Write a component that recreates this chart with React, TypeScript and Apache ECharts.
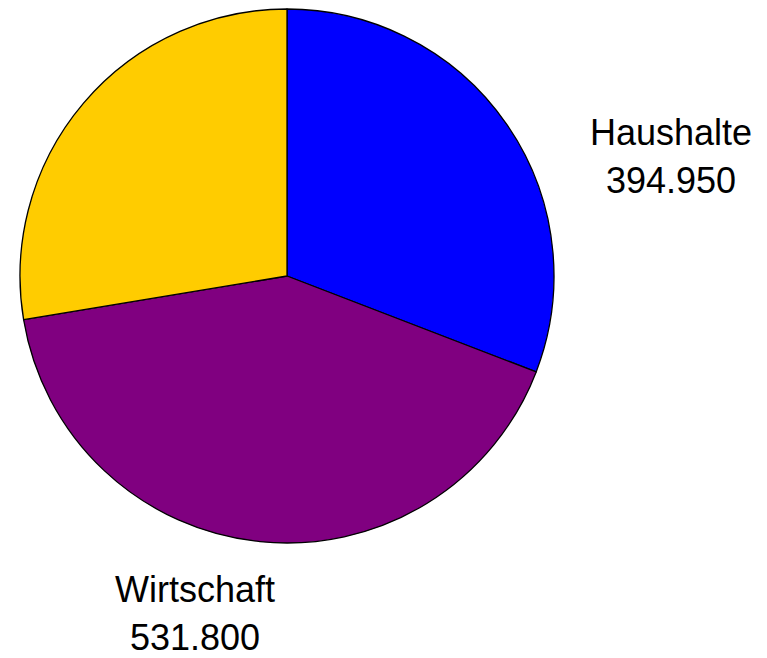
import React, { useEffect, useRef } from "react";
import * as echarts from "echarts";

const categories = ["Haushalte", "Wirtschaft", "Sonstige"];
const values = [394950, 531800, 353600];
const colors = ["#0000FF", "#800080", "#FFCC00"];
const showLabel = [true, true, false];

function fmt(v: number): string {
  return String(Math.round(v)).replace(/\B(?=(\d{3})+(?!\d))/g, ".");
}

const labelPos: Record<number, [number, number]> = {
  0: [671, 156],
  1: [195, 613],
};

export default function App() {
  const ref = useRef<HTMLDivElement>(null);
  useEffect(() => {
    if (!ref.current) return;
    const chart = echarts.init(ref.current, undefined, { renderer: "svg" });
    chart.setOption({
      animation: false,
      backgroundColor: "#ffffff",
      series: [
        {
          type: "pie",
          center: [287, 276],
          radius: 267,
          startAngle: 90,
          clockwise: true,
          avoidLabelOverlap: false,
          emphasis: { disabled: true },
          itemStyle: { borderColor: "#000000", borderWidth: 1.3 },
          labelLine: { show: false },
          label: {
            show: true,
            position: "outside",
            color: "#000000",
            fontFamily: "Liberation Sans, Arial, sans-serif",
            fontSize: 36,
            lineHeight: 48,
            align: "center",
            formatter: (p: any) => p.name + "\n" + fmt(p.value),
          },
          labelLayout: (p: any) => {
            const pos = labelPos[p.dataIndex];
            if (!pos) return {};
            return { x: pos[0], y: pos[1], align: "center", verticalAlign: "middle" };
          },
          data: categories.map((c, i) => ({
            name: c,
            value: values[i],
            itemStyle: { color: colors[i] },
            label: { show: showLabel[i] },
          })),
        },
      ],
    });
    return () => chart.dispose();
  }, []);
  return (
    <div
      ref={ref}
      style={{ position: "fixed", left: 0, top: 0, width: 767, height: 658 }}
    />
  );
}
